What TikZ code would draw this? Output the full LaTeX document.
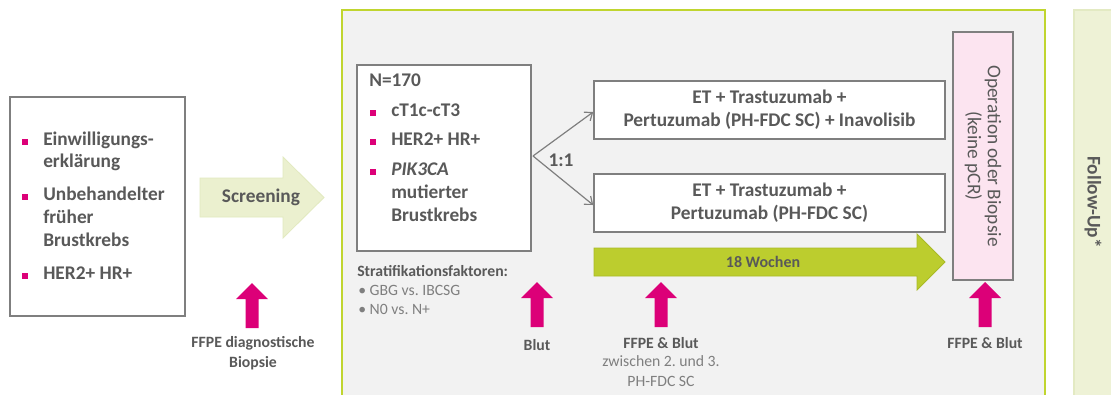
\documentclass[tikz,border=0pt]{standalone}
\usepackage{fontspec}
\setmainfont{Carlito}
\frenchspacing
\usetikzlibrary{arrows.meta,fit}
\definecolor{tgray}{HTML}{595959}
\definecolor{lgray}{HTML}{7F7F7F}
\definecolor{mag}{HTML}{DC0078}
\definecolor{lime}{HTML}{C0D52F}
\definecolor{panelbg}{HTML}{F2F2F2}
\definecolor{scrfill}{HTML}{EBF0CF}
\definecolor{scrdraw}{HTML}{E2EABF}
\definecolor{wkfill}{HTML}{BCCD2E}
\definecolor{wkdraw}{HTML}{A9BA26}
\definecolor{fufill}{HTML}{EEF2D6}
\definecolor{fudraw}{HTML}{E3EAC3}
\definecolor{opfill}{HTML}{FCE4F0}
\definecolor{boxdraw}{HTML}{7F7F7F}
\tikzset{
  big/.style={font=\fontsize{14.5}{17.25}\selectfont\bfseries, text=tgray, inner sep=0pt},
  small/.style={font=\fontsize{11.8}{15}\selectfont\bfseries, text=tgray, inner sep=0pt},
  smallreg/.style={font=\fontsize{11.8}{15}\selectfont, text=lgray, inner sep=0pt},
  wbox/.style={draw=boxdraw, fill=white, line width=1.2pt, inner sep=0pt},
  bul/.style={fill=mag, minimum size=3.8pt, inner sep=0pt},
  conn/.style={draw=lgray, line width=0.9pt, -{Straight Barb[length=5pt,width=8pt]}},
  magarrow/.pic={\fill[mag] (-6.5,45) -- (-6.5,16) -- (-16,16) -- (0,0) -- (16,16) -- (6.5,16) -- (6.5,45) -- cycle;}
}
\begin{document}
\begin{tikzpicture}[x=0.75pt,y=-0.75pt]
\useasboundingbox (0,0) rectangle (1111,394);
\fill[white] (0,0) rectangle (1111,394);
% follow-up bar
\filldraw[fill=fufill, draw=fudraw, line width=1.2pt] (1074,10) rectangle (1116,400);
\node[big, rotate=-90] (fu) at (1093,202) {Follow-Up*};
% main panel
\filldraw[fill=panelbg, draw=lime, line width=1.6pt] (342,10) rectangle (1045,400);
% left box
\node[wbox, fit={(10,97) (185,316)}] (left) {};
\node[bul] (lb1) at (25,142) {};
\node[big, anchor=mid west] (lt1) at (43,142) {Einwilligungs-};
\node[big, anchor=mid west] (lt2) at (43,164) {erklärung};
\node[bul] (lb2) at (25,197) {};
\node[big, anchor=mid west] (lt3) at (43,197) {Unbehandelter};
\node[big, anchor=mid west] (lt4) at (43,220) {früher};
\node[big, anchor=mid west] (lt5) at (43,243) {Brustkrebs};
\node[bul] (lb3) at (25,276) {};
\node[big, anchor=mid west] (lt6) at (43,276) {HER2+ HR+};
% screening arrow
\filldraw[fill=scrfill, draw=scrdraw, line width=0.6pt] (200,178) -- (283,178) -- (283,157) -- (324,197.5) -- (283,238) -- (283,217) -- (200,217) -- cycle;
\node[big] (scr) at (261,197) {Screening};
% magenta arrow 1
\pic at (252,283) {magarrow};
\node[small, align=center, anchor=north] (l1) at (253,336) {FFPE diagnostische\\Biopsie};
% N box
\node[wbox, fit={(357,65) (531,251)}] (nbox) {};
\node[big, anchor=mid west] (n0) at (369,83) {N=170};
\node[bul] (nb1) at (373,113) {};
\node[big, anchor=mid west] (n1) at (391,113) {cT1c-cT3};
\node[bul] (nb2) at (373,142) {};
\node[big, anchor=mid west] (n2) at (391,142) {HER2+ HR+};
\node[bul] (nb3) at (373,172) {};
\node[big, anchor=mid west] (n3) at (391,172) {\itshape PIK3CA};
\node[big, anchor=mid west] (n4) at (391,195) {mutierter};
\node[big, anchor=mid west] (n5) at (391,218) {Brustkrebs};
% stratification
\node[small, anchor=mid west] (s0) at (357,273) {Stratifikationsfaktoren:};
\node[smallreg, anchor=mid west] (s1) at (358,292) {• GBG vs. IBCSG};
\node[smallreg, anchor=mid west] (s2) at (358,311) {• N0 vs. N+};
% Blut arrow
\pic at (537,282) {magarrow};
\node[small] (l2) at (537,345) {Blut};
% treatment boxes
\node[wbox, fit={(594,81) (945,139)}] (top) {};
\node[big, align=center] (toptxt) at (top.center) {ET + Trastuzumab +\\Pertuzumab (PH-FDC SC) + Inavolisib};
\node[wbox, fit={(594,174) (945,232)}] (bot) {};
\node[big, align=center] (bottxt) at (bot.center) {ET + Trastuzumab +\\Pertuzumab (PH-FDC SC)};
% split
\coordinate (sp) at (533,156);
\draw[conn] (sp) -- (top.west |- 0,112);
\draw[conn] (sp) -- (bot.west |- 0,205);
\node[big] (ratio) at (561,160) {1:1};
% 18 Wochen arrow
\filldraw[fill=wkfill, draw=wkdraw, line width=0.6pt] (594,248) -- (917,248) -- (917,234) -- (945,262) -- (917,290) -- (917,276) -- (594,276) -- cycle;
\node[font=\fontsize{12}{14}\selectfont\bfseries, text=tgray, inner sep=0pt] (wk) at (763,262) {18 Wochen};
% FFPE & Blut arrow
\pic at (661,282) {magarrow};
\node[small] (l3) at (661,343) {FFPE \& Blut};
\node[smallreg, align=center, anchor=north] (l3b) at (661,355) {zwischen 2. und 3.\\PH-FDC SC};
% operation box
\filldraw[fill=opfill, draw=boxdraw, line width=1.2pt] (953,32) rectangle (1013,280);
\coordinate (opc) at (983,156);
\node[font=\fontsize{14.5}{15}\selectfont, text=tgray, inner sep=0pt, rotate=-90, align=center] (op) at (opc) {Operation oder Biopsie\\(keine pCR)};
\pic at (985,282) {magarrow};
\node[small] (l4) at (985,343) {FFPE \& Blut};
\end{tikzpicture}
\end{document}
